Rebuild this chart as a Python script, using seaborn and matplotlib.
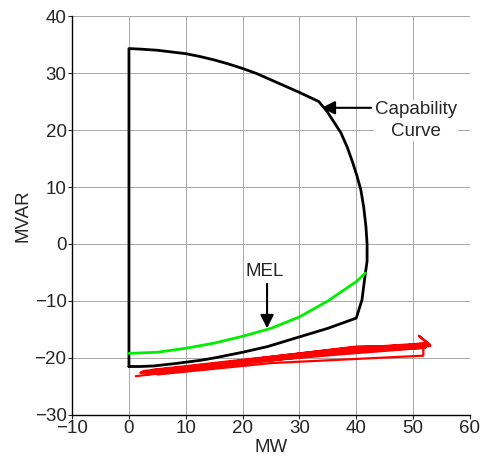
import matplotlib
matplotlib.use("Agg")
import matplotlib.pyplot as plt
import seaborn as sns

# Capability curve (closed outline, traced clockwise from the bottom-left corner)
cap_mw = [0, 0, 2, 5, 7.5, 10, 12.5, 15, 17.5, 20, 22.5, 25, 27.5, 30, 33.4,
          34.9, 36.2, 37.3, 38.4, 39.3, 40.1, 40.8, 41.3, 41.7, 41.9, 41.9, 41.6, 41.0, 40.0,
          35.0, 30.0, 24.4, 20.0, 15.0, 12.7, 8.0, 4.4, 2.0, 0]
cap_mvar = [-21.5, 34.3, 34.2, 34.0, 33.7, 33.4, 32.9, 32.3, 31.6, 30.8, 29.9, 28.8, 27.7, 26.6, 25.0,
            23.2, 21.2, 19.5, 17.0, 14.5, 12.0, 9.5, 6.5, 3.0, 0.0, -3.0, -5.1, -9.8, -13.0,
            -14.8, -16.3, -18.0, -19.0, -20.0, -20.4, -21.0, -21.4, -21.5, -21.5]

# Minimum excitation limit
mel_mw = [0, 5, 10, 15, 20, 25, 30, 35, 40, 41.6]
mel_mvar = [-19.2, -19.0, -18.3, -17.4, -16.2, -14.8, -12.8, -10.0, -6.6, -5.1]

# Operating trajectory (red)
op_mw = [1.2, 38.0, 52.8, 40.0, 2.0, 40.0, 53.0, 38.0, 3.0, 39.0, 52.6, 40.0, 2.5,
         38.0, 52.2, 39.0, 4.0, 40.0, 52.9, 51.0, 53.0, 51.8, 51.8, 25.0, 5.0]
op_mvar = [-23.2, -18.7, -17.6, -18.2, -22.6, -18.0, -17.9, -19.0, -22.9, -18.3, -17.4, -18.6, -22.3,
           -19.3, -18.2, -18.9, -22.1, -18.1, -17.7, -16.1, -17.7, -18.0, -19.6, -20.9, -22.9]

sns.set_style("whitegrid", {"grid.color": "#a8a8a8", "axes.edgecolor": "black"})
plt.rcParams['font.family'] = ['Liberation Sans', 'DejaVu Sans']

fig, ax = plt.subplots(figsize=(4.84, 4.59), dpi=100)
fig.subplots_adjust(left=0.149, right=0.971, top=0.965, bottom=0.096)

sns.lineplot(x=op_mw, y=op_mvar, sort=False, estimator=None, color="red", linewidth=1.6, ax=ax)
sns.lineplot(x=cap_mw, y=cap_mvar, sort=False, estimator=None, color="black", linewidth=2, ax=ax)
sns.lineplot(x=mel_mw, y=mel_mvar, sort=False, estimator=None, color="#00ee00", linewidth=2, ax=ax)

ax.set_xlim(-10, 60)
ax.set_ylim(-30, 40)
ax.set_xticks(range(-10, 61, 10))
ax.set_yticks(range(-30, 41, 10))
ax.grid(True, linewidth=0.7)
ax.set_xlabel("MW", fontsize=13.5, labelpad=1)
ax.set_ylabel("MVAR", fontsize=13.5, labelpad=2)
ax.tick_params(labelsize=13.5, direction="out", length=3, width=0.8, pad=1,
               left=True, bottom=True)
for s in ["top", "right"]:
    ax.spines[s].set_visible(False)
for s in ["left", "bottom"]:
    ax.spines[s].set_linewidth(1.0)

arrow = dict(arrowstyle="-|>", color="black", lw=1.5, mutation_scale=20)
ax.text(50.5, 21.7, "Capability\nCurve", ha="center", va="center", fontsize=13.5,
        linespacing=1.35, bbox=dict(facecolor="white", edgecolor="none", pad=1))
ax.annotate("", xy=(33.9, 23.9), xytext=(42.6, 23.9), arrowprops=dict(arrow, shrinkA=0, shrinkB=0))
ax.text(23.8, -4.9, "MEL", ha="center", va="center", fontsize=13.5)
ax.annotate("", xy=(24.3, -14.8), xytext=(24.3, -7.0), arrowprops=dict(arrow, shrinkA=0, shrinkB=0))

fig.savefig("out.png", dpi=100)
